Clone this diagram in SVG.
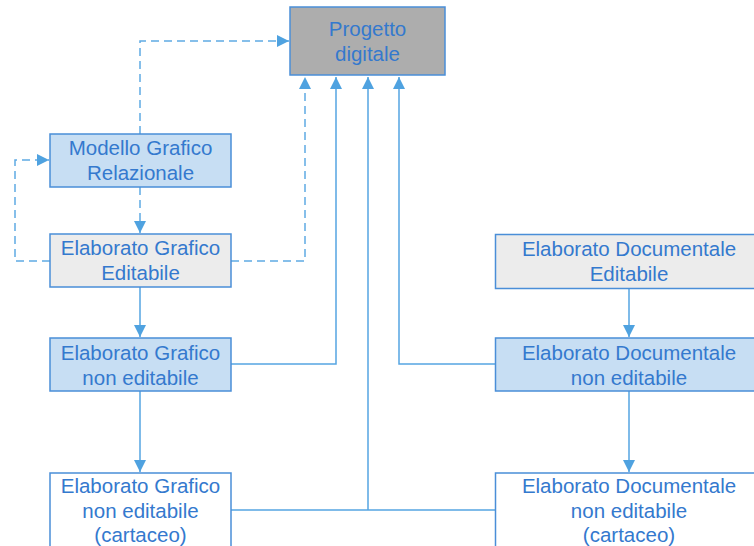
<svg xmlns="http://www.w3.org/2000/svg" width="754" height="546" viewBox="0 0 754 546">
  <style>
    .box { stroke: #4A8ED8; stroke-width: 1.5; }
    .grey { fill: #ADADAD; }
    .blue { fill: #C7DEF3; }
    .light { fill: #ECECEC; }
    .white { fill: #FFFFFF; }
    .lbl { font-family: "Liberation Sans", Arial, sans-serif; font-size: 20.5px; fill: #3479CE; text-anchor: middle; }
    .link { fill: none; stroke: #55A5E2; stroke-width: 1.5; }
    .dash { stroke-dasharray: 8 5; stroke: #5FAAE4; }
  </style>
  <defs>
    <marker id="arrow" viewBox="0 0 12 12" refX="12" refY="6" markerWidth="12" markerHeight="12" markerUnits="userSpaceOnUse" orient="auto">
      <path d="M0,0 L12,6 L0,12 Z" fill="#4FA2E0"/>
    </marker>
  </defs>

  <rect width="754" height="546" fill="#FFFFFF"/>

  <g id="connectors">
    <!-- dashed links -->
    <path class="link dash" d="M140,134 V41 H289" marker-end="url(#arrow)"/>
    <path class="link dash" d="M140,187 V233" marker-end="url(#arrow)"/>
    <path class="link dash" d="M50,261 H15 V160 H49" marker-end="url(#arrow)"/>
    <path class="link dash" d="M231,261 H305 V77" marker-end="url(#arrow)"/>
    <!-- solid links -->
    <path class="link" d="M140,287 V337" marker-end="url(#arrow)"/>
    <path class="link" d="M140,391 V472" marker-end="url(#arrow)"/>
    <path class="link" d="M231,364 H336 V77" marker-end="url(#arrow)"/>
    <path class="link" d="M231,510 H495"/>
    <path class="link" d="M368,510 V77" marker-end="url(#arrow)"/>
    <path class="link" d="M495,364 H399 V77" marker-end="url(#arrow)"/>
    <path class="link" d="M629,288 V337" marker-end="url(#arrow)"/>
    <path class="link" d="M629,391 V472" marker-end="url(#arrow)"/>
  </g>

  <g id="progetto-digitale">
    <rect class="box grey" x="290" y="7" width="155" height="68"/>
    <text class="lbl" x="367.5" y="36">Progetto</text>
    <text class="lbl" x="367.5" y="61">digitale</text>
  </g>

  <g id="modello-grafico-relazionale">
    <rect class="box blue" x="50" y="134" width="181" height="53"/>
    <text class="lbl" x="140.5" y="155">Modello Grafico</text>
    <text class="lbl" x="140.5" y="180">Relazionale</text>
  </g>

  <g id="elaborato-grafico-editabile">
    <rect class="box light" x="50" y="234" width="181" height="53"/>
    <text class="lbl" x="140.5" y="255">Elaborato Grafico</text>
    <text class="lbl" x="140.5" y="280">Editabile</text>
  </g>

  <g id="elaborato-grafico-non-editabile">
    <rect class="box blue" x="50" y="338" width="181" height="53"/>
    <text class="lbl" x="140.5" y="360">Elaborato Grafico</text>
    <text class="lbl" x="140.5" y="385">non editabile</text>
  </g>

  <g id="elaborato-grafico-cartaceo">
    <rect class="box white" x="50" y="473" width="181" height="90"/>
    <text class="lbl" x="140.5" y="493">Elaborato Grafico</text>
    <text class="lbl" x="140.5" y="518">non editabile</text>
    <text class="lbl" x="140.5" y="542">(cartaceo)</text>
  </g>

  <g id="elaborato-documentale-editabile">
    <rect class="box light" x="495.5" y="234.5" width="268" height="54"/>
    <text class="lbl" x="629" y="256">Elaborato Documentale</text>
    <text class="lbl" x="629" y="281">Editabile</text>
  </g>

  <g id="elaborato-documentale-non-editabile">
    <rect class="box blue" x="495.5" y="338" width="268" height="53"/>
    <text class="lbl" x="629" y="360">Elaborato Documentale</text>
    <text class="lbl" x="629" y="385">non editabile</text>
  </g>

  <g id="elaborato-documentale-cartaceo">
    <rect class="box white" x="495.5" y="473" width="268" height="90"/>
    <text class="lbl" x="629" y="493">Elaborato Documentale</text>
    <text class="lbl" x="629" y="518">non editabile</text>
    <text class="lbl" x="629" y="542">(cartaceo)</text>
  </g>
</svg>
